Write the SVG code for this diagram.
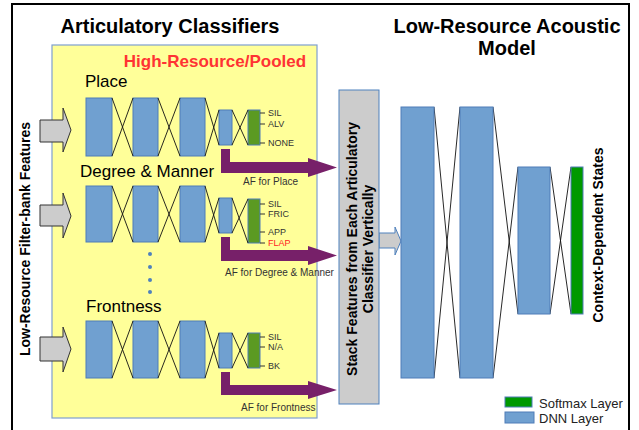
<svg xmlns="http://www.w3.org/2000/svg" width="639" height="430" viewBox="0 0 639 430">
<style>
text{font-family:"Liberation Sans",Arial,sans-serif}
.t{font-weight:bold;font-size:20px;fill:#000}
.sub{font-size:17px;fill:#000}
.lab{font-size:9px;fill:#333}
.red{fill:#ff2222}
.af{font-size:10px;fill:#333}
.dnn{fill:#70a0d0;stroke:#4f7cb8;stroke-width:1}
.sm{fill:#5b9a22;stroke:#4f7cb8;stroke-width:1}
.smr{fill:#009900;stroke:#4f7cb8;stroke-width:1}
.x{stroke:#111;stroke-width:0.9;fill:none}
.tick{stroke:#333;stroke-width:1}
.pa{fill:#772069}
.ga{fill:#cccccc;stroke:#333;stroke-width:1}
.vt{font-weight:bold;font-size:14px;fill:#000}
</style>
<rect x="0" y="0" width="639" height="430" fill="#fff"/>
<rect x="12" y="4" width="617" height="450" fill="none" stroke="#000" stroke-width="2"/>

<g id="articulatory-frame">
<rect x="52" y="45" width="265" height="373" fill="#ffff99" stroke="#7f9fd0" stroke-width="1.2"/>
<text class="t" x="170" y="33" text-anchor="middle">Articulatory Classifiers</text>
<text x="215" y="67" text-anchor="middle" font-weight="bold" font-size="17" fill="#ff3333">High-Resource/Pooled</text>
</g>

<g id="input-label">
<text class="vt" transform="translate(30,239) rotate(-90)" text-anchor="middle" font-size="14.5">Low-Resource Filter-bank Features</text>
</g>

<g id="place">
<text class="sub" x="85" y="87">Place</text>
<rect class="dnn" x="86" y="98" width="26" height="58"/>
<rect class="dnn" x="133" y="98" width="25" height="58"/>
<rect class="dnn" x="180" y="98" width="25" height="58"/>
<rect class="dnn" x="219" y="110" width="13" height="35"/>
<rect class="sm" x="248" y="110" width="12" height="35"/>
<path class="x" d="M112,98L133,156M112,156L133,98M158,98L180,156M158,156L180,98M205,98L219,145M205,156L219,110M232,110L248,145M232,145L248,110"/>
<path class="tick" d="M260,113H265M260,124H265M260,143H265"/>
<text class="lab" x="268" y="116">SIL</text>
<text class="lab" x="268" y="127">ALV</text>
<text class="lab" x="268" y="146">NONE</text>
</g>

<g id="degree-manner">
<text class="sub" x="80" y="177">Degree &amp; Manner</text>
<rect class="dnn" x="86" y="186" width="26" height="56"/>
<rect class="dnn" x="133" y="186" width="25" height="56"/>
<rect class="dnn" x="180" y="186" width="25" height="56"/>
<rect class="dnn" x="219" y="198" width="13" height="35"/>
<rect class="sm" x="248" y="199" width="12" height="44"/>
<path class="x" d="M112,186L133,242M112,242L133,186M158,186L180,242M158,242L180,186M205,186L219,233M205,242L219,198M232,198L248,243M232,233L248,199"/>
<path class="tick" d="M260,204H265M260,214H265M260,232H265M260,243H265"/>
<text class="lab" x="268" y="207">SIL</text>
<text class="lab" x="268" y="217">FRIC</text>
<text class="lab" x="268" y="235">APP</text>
<text class="lab red" x="268" y="246">FLAP</text>
</g>

<g id="ellipsis" fill="#4f81bd">
<circle cx="150" cy="254" r="2"/>
<circle cx="150" cy="267" r="2"/>
<circle cx="150" cy="280" r="2"/>
<circle cx="150" cy="292" r="2"/>
</g>

<g id="frontness">
<text class="sub" x="86" y="312">Frontness</text>
<rect class="dnn" x="86" y="321" width="26" height="57"/>
<rect class="dnn" x="133" y="321" width="25" height="57"/>
<rect class="dnn" x="180" y="321" width="25" height="57"/>
<rect class="dnn" x="219" y="333" width="13" height="35"/>
<rect class="sm" x="248" y="333" width="12" height="35"/>
<path class="x" d="M112,321L133,378M112,378L133,321M158,321L180,378M158,378L180,321M205,321L219,368M205,378L219,333M232,333L248,368M232,368L248,333"/>
<path class="tick" d="M260,337H265M260,347H265M260,366H265"/>
<text class="lab" x="268" y="340">SIL</text>
<text class="lab" x="268" y="350">N/A</text>
<text class="lab" x="268" y="369">BK</text>
</g>

<g id="connectors">
<polygon class="ga" points="40,120 63,120 63,108 71,130 63,152 63,142 40,142"/>
<polygon class="ga" points="40,205 63,205 63,193 71,216 63,238 63,226 40,226"/>
<polygon class="ga" points="40,337 63,337 63,327 71,349 63,372 63,361 40,361"/>
<polygon class="pa" points="221,149 230,149 230,162 308,162 308,158 337,167.5 308,177 308,173 221,173"/>
<polygon class="pa" points="221,237 230,237 230,250 308,250 308,246 337,255.5 308,265 308,261 221,261"/>
<polygon class="pa" points="221,372 230,372 230,385 308,385 308,381 337,390 308,399 308,395 221,395"/>
<polygon points="379,233 395,233 395,227 401,241 395,255 395,248 379,248" fill="#cccccc" stroke="#4f81bd" stroke-width="1"/>
<path class="x" d="M434,107L460,378M434,378L460,107M493,107L518,314M493,378L518,167M550,167L571,314M550,314L571,167"/>
</g>

<g id="af-labels">
<text class="af" x="243" y="185">AF for Place</text>
<text class="af" x="225" y="276">AF for Degree &amp; Manner</text>
<text class="af" x="241" y="411">AF for Frontness</text>
</g>

<g id="stack">
<rect x="339" y="90" width="40" height="314" fill="#cccccc" stroke="#4f81bd" stroke-width="1"/>
<text class="vt" transform="translate(357,249) rotate(-90)" text-anchor="middle">Stack Features from Each Articulatory</text>
<text class="vt" transform="translate(373,249) rotate(-90)" text-anchor="middle">Classifier Vertically</text>
</g>

<g id="acoustic-model">
<text class="t" x="507" y="33" text-anchor="middle">Low-Resource Acoustic</text>
<text class="t" x="507" y="55" text-anchor="middle">Model</text>
<rect class="dnn" x="401" y="107" width="33" height="271"/>
<rect class="dnn" x="460" y="107" width="33" height="271"/>
<rect class="dnn" x="518" y="167" width="32" height="147"/>
<rect class="smr" x="571" y="167" width="12" height="147"/>
<text class="vt" transform="translate(603,235) rotate(-90)" text-anchor="middle">Context-Dependent States</text>
</g>

<g id="legend">
<rect class="smr" x="505" y="397" width="27" height="10"/>
<rect class="dnn" x="505" y="412" width="29" height="11"/>
<text x="539" y="408" font-size="13" fill="#222">Softmax Layer</text>
<text x="539" y="423" font-size="13" fill="#222">DNN Layer</text>
</g>
</svg>
